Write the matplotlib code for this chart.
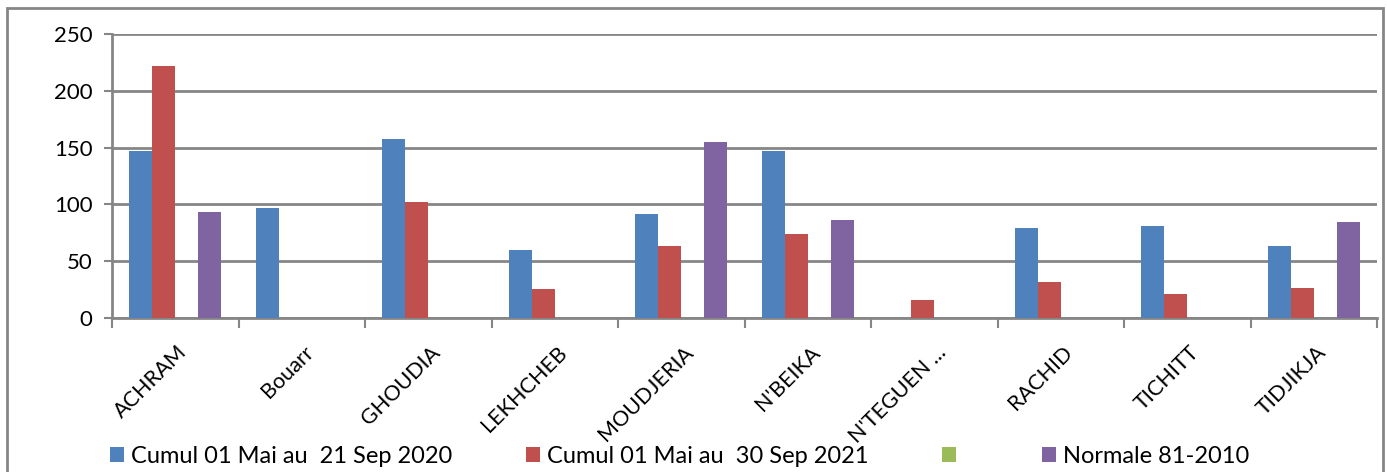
import matplotlib.pyplot as plt
from matplotlib.patches import Rectangle
import numpy as np

stations = ["ACHRAM", "Bouarr", "GHOUDIA", "LEKHCHEB", "MOUDJERIA",
            "N'BEIKA", "N'TEGUEN ...", "RACHID", "TICHITT", "TIDJIKJA"]
nan = np.nan
cumul_2020 = [146.6, 97.2, 157.2, 60.0, 91.9, 146.6, nan, 79.5, 81.3, 63.5]
cumul_2021 = [222.2, nan, 102.5, 25.1, 63.5, 74.2, 16.0, 31.9, 21.3, 26.6]
empty_series = [nan] * 10
normale = [93.7, nan, nan, nan, 155.1, 86.6, nan, nan, nan, 84.8]

labels = ["Cumul 01 Mai au  21 Sep 2020", "Cumul 01 Mai au  30 Sep 2021", " ", "Normale 81-2010"]
colors = ["#4F81BD", "#C0504D", "#9BBB59", "#8064A2"]
series = [cumul_2020, cumul_2021, empty_series, normale]

plt.rcParams['font.family'] = ['Lato', 'DejaVu Sans']

fig = plt.figure(figsize=(13.87, 4.72), dpi=100)
ax = fig.add_axes([0.0808, 0.3263, 0.912, 0.6017])

x = np.arange(len(stations))
w = 1 / 5.5
for i, (vals, c, lab) in enumerate(zip(series, colors, labels)):
    ax.bar(x + (i - 1.5) * w, vals, w, color=c, label=lab, zorder=3)

ax.set_xlim(-0.5, len(stations) - 0.5)
ax.set_ylim(0, 250)
ax.set_yticks(range(0, 251, 50))
ax.yaxis.grid(True, color="#868686", linewidth=2, zorder=0)
ax.tick_params(axis="y", labelsize=16, length=6, width=1.5, color="#868686", pad=8)

ax.set_xticks(np.arange(-0.5, len(stations), 1))
ax.set_xticklabels([])
ax.tick_params(axis="x", length=7, width=1.5, color="#868686")
for xi, name in zip(x, stations):
    ax.text(xi + 0.07, -0.11, name, rotation=45, ha="right", va="center",
            rotation_mode="anchor", fontsize=15.5, transform=ax.get_xaxis_transform())

for s in ["top", "right"]:
    ax.spines[s].set_visible(False)
for s in ["left", "bottom"]:
    ax.spines[s].set_color("#868686")
    ax.spines[s].set_linewidth(2)

fig.legend(loc="lower left", bbox_to_anchor=(0.064, -0.035), ncol=4, frameon=False,
           fontsize=17, handlelength=0.6, handleheight=0.6, handletextpad=0.3,
           columnspacing=3.1)

fig.patches.append(Rectangle((0.005, -0.01), 0.992, 0.993, transform=fig.transFigure,
                             fill=False, edgecolor="#868686", linewidth=2))

fig.savefig("out.png", dpi=100)
